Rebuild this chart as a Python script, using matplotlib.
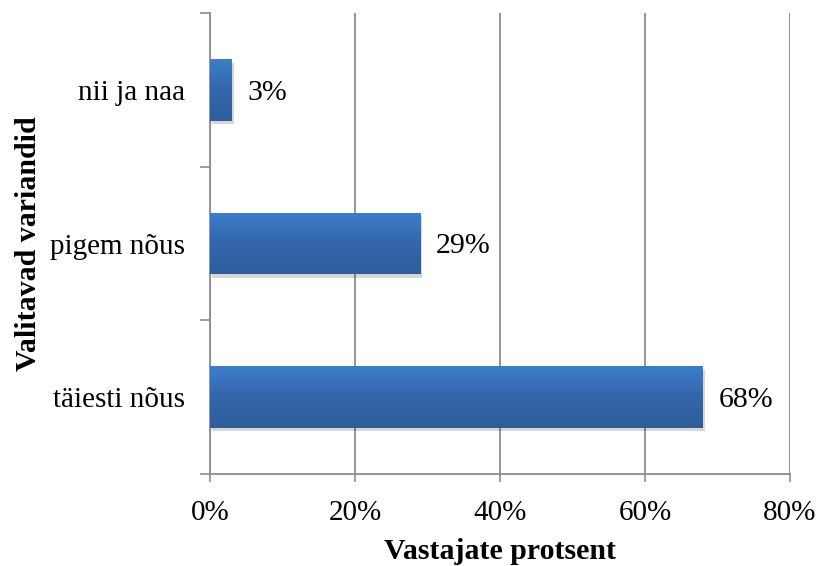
import numpy as np
import matplotlib
matplotlib.use("Agg")
import matplotlib.pyplot as plt
import matplotlib.patheffects as pe
from matplotlib.colors import LinearSegmentedColormap

categories = ["täiesti nõus", "pigem nõus", "nii ja naa"]
values = [68, 29, 3]
xticks = [0, 20, 40, 60, 80]
xlabel = "Vastajate protsent"
ylabel = "Valitavad variandid"

plt.rcParams["font.family"] = ["Liberation Serif", "DejaVu Serif"]

fig = plt.figure(figsize=(8.16, 5.66), dpi=100)
ax = fig.add_axes([0.2574, 0.1625, 0.9681 - 0.2574, 0.977 - 0.1625])

grey = "#8c8c8c"
y = np.arange(len(categories))
bars = ax.barh(y, values, height=0.4, color="#3a78c4", zorder=3,
               path_effects=[pe.SimplePatchShadow(offset=(1.5, -2.5), shadow_rgbFace="black",
                                                  alpha=0.16),
                             pe.Normal()])

# vertical gradient fill, lighter at the top of each bar
cmap = LinearSegmentedColormap.from_list("barfill", ["#2d5d9c", "#3466aa", "#3d7ecc"])
grad = np.linspace(0, 1, 256).reshape(-1, 1)
for b in bars:
    x0, y0 = b.get_x(), b.get_y()
    w, h = b.get_width(), b.get_height()
    im = ax.imshow(grad, cmap=cmap, aspect="auto", origin="lower",
                   extent=[x0, x0 + w, y0, y0 + h], zorder=4)
    im.set_clip_path(b)

for yi, v in zip(y, values):
    ax.annotate(f"{v}%", xy=(v, yi), xytext=(11, -2), textcoords="offset points",
                va="center", ha="left", fontsize=21.5, color="black")

ax.set_xlim(0, 80)
ax.set_ylim(-0.5, len(categories) - 0.5)
ax.set_xticks(xticks)
ax.set_xticklabels([f"{t}%" for t in xticks], fontsize=21)
ax.set_yticks(y)
ax.set_yticklabels(categories, fontsize=21)
ax.set_yticks(np.arange(-0.5, len(categories), 1.0), minor=True)

ax.tick_params(axis="y", which="major", length=0, pad=18)
ax.tick_params(axis="y", which="minor", length=7, width=1.2, color=grey, direction="out")
ax.tick_params(axis="x", which="major", length=6, width=1.2, color=grey, direction="out", pad=13)

ax.grid(axis="x", color=grey, linewidth=1.3, zorder=0)
ax.set_axisbelow(True)
for side in ["top", "right"]:
    ax.spines[side].set_visible(False)
for side in ["left", "bottom"]:
    ax.spines[side].set_color(grey)
    ax.spines[side].set_linewidth(1.3)

ax.set_xlabel(xlabel, fontsize=21.5, fontweight="bold", labelpad=8)
ax.set_ylabel(ylabel, fontsize=21.5, fontweight="bold", labelpad=6)

fig.savefig("out.png", dpi=100, facecolor="white")
